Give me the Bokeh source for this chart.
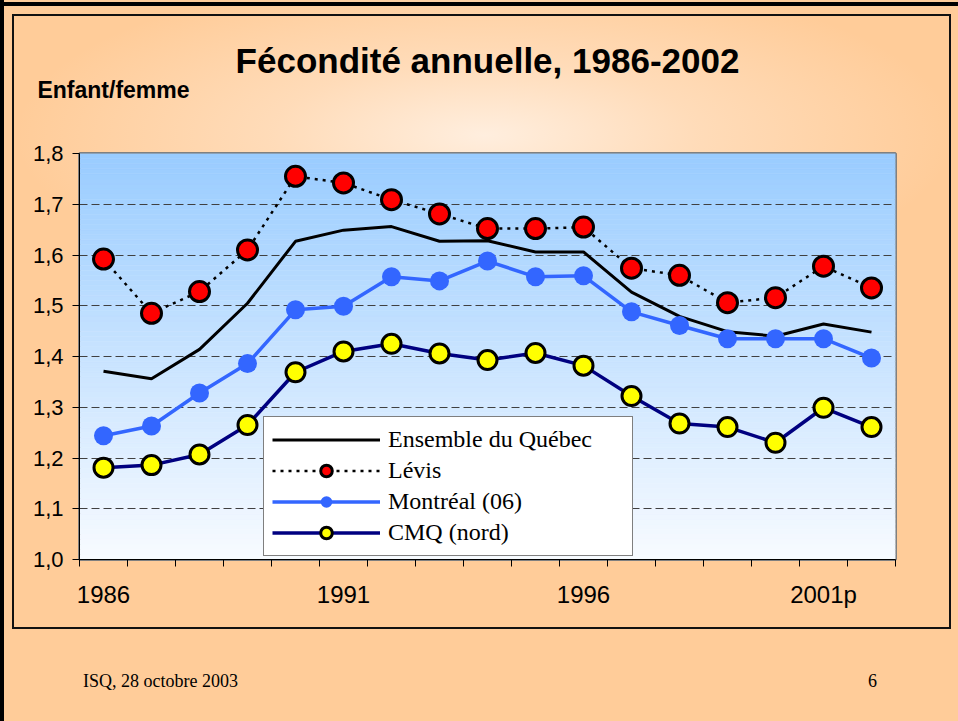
import numpy as np
from bokeh.plotting import figure
from bokeh.models import (Range1d, FixedTicker, Legend, LegendItem, Title, LinearAxis)
from bokeh.embed import file_html
from bokeh.resources import INLINE

# ---------------- data ----------------
years = list(range(1986, 2003))
quebec = [1.371, 1.356, 1.414, 1.505, 1.627, 1.649, 1.656, 1.627, 1.628, 1.606,
          1.606, 1.527, 1.479, 1.449, 1.440, 1.464, 1.448]
levis = [1.592, 1.485, 1.528, 1.610, 1.755, 1.742, 1.709, 1.681, 1.652, 1.652,
         1.655, 1.574, 1.560, 1.506, 1.516, 1.578, 1.535]
montreal = [1.244, 1.263, 1.328, 1.386, 1.492, 1.499, 1.557, 1.549, 1.588, 1.557,
            1.559, 1.488, 1.461, 1.435, 1.435, 1.435, 1.397]
cmq = [1.181, 1.186, 1.207, 1.265, 1.369, 1.410, 1.425, 1.406, 1.393, 1.407,
       1.382, 1.322, 1.268, 1.261, 1.230, 1.299, 1.261]

series_names = ["Ensemble du Québec", "Lévis", "Montréal (06)", "CMQ (nord)"]
x_tick_years = [1986, 1991, 1996, 2001]
x_tick_labels = ["1986", "1991", "1996", "2001p"]
y_ticks = [1.0, 1.1, 1.2, 1.3, 1.4, 1.5, 1.6, 1.7, 1.8]
y_tick_labels = ["1,0", "1,1", "1,2", "1,3", "1,4", "1,5", "1,6", "1,7", "1,8"]
title_text = "Fécondité annuelle, 1986-2002"
y_title = "Enfant/femme"
footer_left = "ISQ, 28 octobre 2003"
footer_right = "6"

# ---------------- layout constants ----------------
SANS = "Liberation Sans"
SERIF = "Liberation Serif"
W, H = 958, 721
BL, BR, BT, BB = 79, 63, 153, 162          # frame borders (px)
FW = W - BL - BR

x0, x1 = years[0] - 0.5, years[-1] + 0.5
y0, y1 = y_ticks[0], y_ticks[-1]


def px2x(px):
    """page pixel column -> data x (used only to place slide texts)"""
    return x0 + (px - BL) * (x1 - x0) / FW


# slide background (peach with soft glow, slide frame lines) as CSS
bg_layers = [
    "linear-gradient(#000,#000) 0px 2px / 100% 4px no-repeat",
    "linear-gradient(#000,#000) 0px 0px / 4px 100% no-repeat",
    "linear-gradient(#111,#111) 12px 14px / 939px 2px no-repeat",
    "linear-gradient(#111,#111) 12px 627px / 939px 2px no-repeat",
    "linear-gradient(#111,#111) 12px 14px / 2px 615px no-repeat",
    "linear-gradient(#111,#111) 949px 14px / 2px 615px no-repeat",
    "radial-gradient(ellipse 470px 165px at 485px 135px, rgba(255,238,222,1) 0%, "
    "rgba(255,230,206,0.6) 45%, rgba(255,204,153,0) 100%) no-repeat",
]
bg_css = ", ".join(bg_layers) + ", #FFCC99"

p = figure(width=W, height=H, output_backend="svg", toolbar_location=None,
           x_range=Range1d(x0, x1), y_range=Range1d(y0, y1),
           min_border_left=BL, min_border_right=BR,
           min_border_top=BT, min_border_bottom=BB)
p.title.visible = False
p.border_fill_color = None
p.background_fill_color = "#F8FBFF"
p.outline_line_color = "#808080"
p.outline_line_width = 3
p.styles = {"background": bg_css}

# vertical gradient of plot area
nb = 80
edges = np.linspace(y0, y1, nb + 1)
top_c = np.array([153, 204, 255])
bot_c = np.array([248, 251, 255])
cols = []
for i in range(nb):
    f = (i + 0.5) / nb
    c = (bot_c + (top_c - bot_c) * f).round().astype(int)
    cols.append("#%02x%02x%02x" % tuple(c))
gr = p.quad(left=[x0] * nb, right=[x1] * nb, bottom=edges[:-1], top=edges[1:],
            fill_color=cols, line_color=cols, line_width=0.5)
gr.level = "image"

# grid
p.xgrid.visible = False
p.ygrid.ticker = FixedTicker(ticks=y_ticks[1:-1])
p.ygrid.grid_line_color = "#404040"
p.ygrid.grid_line_dash = "8 4"
p.ygrid.grid_line_width = 1.2

# x axis: labels at category centres, tick marks between categories
p.xaxis.ticker = FixedTicker(ticks=x_tick_years,
                             minor_ticks=[y - 0.5 for y in years] + [years[-1] + 0.5])
p.xaxis.major_label_overrides = dict(zip(x_tick_years, x_tick_labels))
p.xaxis.major_tick_line_color = None
p.xaxis.major_tick_out = 7
p.xaxis.major_tick_in = 0
p.xaxis.minor_tick_line_color = "black"
p.xaxis.minor_tick_in = 0
p.xaxis.minor_tick_out = 7
p.xaxis.major_label_standoff = 14
p.xaxis.major_label_text_font = SANS
p.xaxis.major_label_text_font_size = "24px"
p.xaxis.major_label_text_color = "black"
p.xaxis.axis_line_color = "black"

p.yaxis.ticker = FixedTicker(ticks=y_ticks)
p.yaxis.major_label_overrides = dict(zip(y_ticks, y_tick_labels))
p.yaxis.minor_tick_line_color = None
p.yaxis.major_tick_line_color = "black"
p.yaxis.major_tick_in = 0
p.yaxis.major_tick_out = 7
p.yaxis.major_label_standoff = 9
p.yaxis.major_label_text_font = SANS
p.yaxis.major_label_text_font_size = "22px"
p.yaxis.major_label_text_color = "black"
p.yaxis.axis_line_color = "black"

# series
r_q = p.line(years, quebec, line_color="black", line_width=3)
r_l_line = p.line(years, levis, line_color="black", line_width=2.5, line_dash="3 5")
r_l_pts = p.scatter(years, levis, size=20, fill_color="#FF0000", line_color="black",
                    line_width=3)
r_m_line = p.line(years, montreal, line_color="#3366FF", line_width=3.5)
r_m_pts = p.scatter(years, montreal, size=19, fill_color="#3366FF", line_color=None)
r_c_line = p.line(years, cmq, line_color="#000080", line_width=3.5)
r_c_pts = p.scatter(years, cmq, size=19, fill_color="#FFFF00", line_color="black",
                    line_width=3)

legend = Legend(items=[
    LegendItem(label=series_names[0], renderers=[r_q]),
    LegendItem(label=series_names[1], renderers=[r_l_line, r_l_pts]),
    LegendItem(label=series_names[2], renderers=[r_m_line, r_m_pts]),
    LegendItem(label=series_names[3], renderers=[r_c_line, r_c_pts]),
], location=(184, 3))
legend.label_text_font = SERIF
legend.label_text_font_size = "24px"
legend.label_text_color = "black"
legend.glyph_width = 108
legend.glyph_height = 29
legend.label_height = 29
legend.label_width = 236
legend.label_standoff = 8
legend.spacing = 2
legend.padding = 8
legend.margin = 0
legend.border_line_color = "black"
legend.border_line_width = 1.5
legend.background_fill_color = "white"
legend.background_fill_alpha = 1
p.add_layout(legend)

# "Enfant/femme" (unit label) above the plot area
unit_x = px2x(113)
ax_unit = LinearAxis(ticker=FixedTicker(ticks=[unit_x]),
                     major_label_overrides={unit_x: y_title})
ax_unit.axis_line_color = None
ax_unit.major_tick_line_color = None
ax_unit.minor_tick_line_color = None
ax_unit.major_tick_out = 0
ax_unit.major_tick_in = 0
ax_unit.major_label_standoff = 51
ax_unit.major_label_text_font = SANS
ax_unit.major_label_text_font_style = "bold"
ax_unit.major_label_text_font_size = "23px"
ax_unit.major_label_text_color = "black"
p.add_layout(ax_unit, "above")

# main title
p.add_layout(Title(text=title_text, align="center", vertical_align="bottom",
                   standoff=-13, text_font=SANS, text_font_style="bold",
                   text_font_size="35px", text_color="black"), "above")

# slide footer
foot_x = [px2x(160), px2x(872)]
ax_foot = LinearAxis(ticker=FixedTicker(ticks=foot_x),
                     major_label_overrides=dict(zip(foot_x, [footer_left, footer_right])))
ax_foot.axis_line_color = None
ax_foot.major_tick_line_color = None
ax_foot.minor_tick_line_color = None
ax_foot.major_tick_out = 0
ax_foot.major_tick_in = 0
ax_foot.major_label_standoff = 60
ax_foot.major_label_text_font = SERIF
ax_foot.major_label_text_font_size = "18px"
ax_foot.major_label_text_color = "black"
p.add_layout(ax_foot, "below")

open("out.html", "w").write(file_html(p, INLINE))
